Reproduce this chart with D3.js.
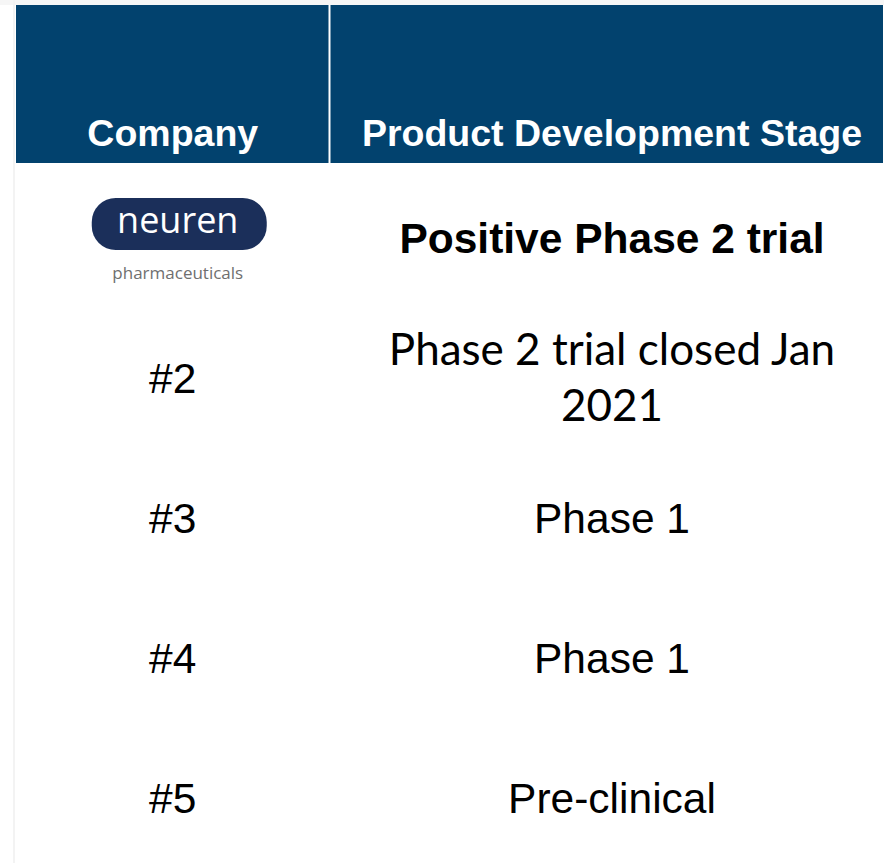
<!DOCTYPE html>
<meta charset="utf-8">
<style>
body { margin: 0; background: #fff; }
</style>
<svg width="884" height="863"></svg>
<script src="https://d3js.org/d3.v7.min.js"></script>
<script>

// table content
var headers = ["Company", "Product Development Stage"];
var companies = ["neuren", "#2", "#3", "#4", "#5"];
var stages = ["Positive Phase 2 trial", "Phase 2 trial closed Jan|2021", "Phase 1", "Phase 1", "Pre-clinical"];
var logoSub = "pharmaceuticals";

var svg = d3.select("svg"),
    width = +svg.attr("width"),
    height = +svg.attr("height");

var left = 16, right = 883, split = 329.5,
    headTop = 5, headBottom = 163;

// column centres
var x = d3.scaleOrdinal()
    .domain(headers)
    .range([(left + split) / 2, 612]);

// rows
var y = d3.scaleBand()
    .domain(d3.range(companies.length))
    .range([168, 868])
    .padding(0);

// faint page edges
svg.append("rect").attr("x", 0).attr("y", 0).attr("width", width).attr("height", headTop)
    .attr("fill", "#f6f6f6");
svg.append("rect").attr("x", 13).attr("y", 0).attr("width", 2).attr("height", height)
    .attr("fill", "#f3f3f3");

// header
svg.append("rect")
    .attr("x", left).attr("y", headTop)
    .attr("width", right - left).attr("height", headBottom - headTop)
    .attr("fill", "#02426e");

svg.append("line")
    .attr("x1", split).attr("x2", split)
    .attr("y1", headTop).attr("y2", headBottom)
    .attr("stroke", "#ffffff").attr("stroke-width", 2);

svg.selectAll(".head")
    .data(headers)
  .enter().append("text")
    .attr("class", "head")
    .attr("x", function(d) { return x(d); })
    .attr("y", 146)
    .attr("text-anchor", "middle")
    .style("font", "bold 37.5px 'Liberation Sans', Arial, sans-serif")
    .attr("fill", "#fff")
    .text(function(d) { return d; });

var rowC = function(i) { return y(i) + y.bandwidth() / 2; };

// company column
var comp = svg.selectAll(".comp")
    .data(companies)
  .enter().append("g")
    .attr("class", "comp")
    .attr("transform", function(d, i) { return "translate(" + x(headers[0]) + "," + rowC(i) + ")"; });

comp.filter(function(d, i) { return i > 0; })
  .append("text")
    .attr("text-anchor", "middle")
    .attr("dy", "0.35em")
    .style("font", "42.5px 'Liberation Sans', Arial, sans-serif")
    .attr("fill", "#000")
    .text(function(d) { return d; });

// logo for first row
var logo = comp.filter(function(d, i) { return i === 0; });
logo.append("rect")
    .attr("x", -81).attr("y", -40)
    .attr("width", 175).attr("height", 52)
    .attr("rx", 24)
    .attr("fill", "#1b2f5a");
logo.append("text")
    .attr("x", 5).attr("y", -5)
    .attr("text-anchor", "middle")
    .style("font", "36px 'Open Sans', sans-serif")
    .attr("fill", "#fff")
    .text(function(d) { return d; });
logo.append("text")
    .attr("x", 5).attr("y", 41)
    .attr("text-anchor", "middle")
    .style("font", "17px 'Open Sans', sans-serif")
    .attr("fill", "#6f6f6f")
    .text(logoSub);

// stage column
var stage = svg.selectAll(".stage")
    .data(stages)
  .enter().append("text")
    .attr("class", "stage")
    .attr("x", x(headers[1]))
    .attr("y", function(d, i) { return rowC(i); })
    .attr("text-anchor", "middle")
    .attr("fill", "#000")
    .style("font", function(d, i) {
      if (i === 0) return "bold 42.5px 'Liberation Sans', Arial, sans-serif";
      if (i === 1) return "44px Lato, 'Open Sans', sans-serif";
      return "42.5px 'Liberation Sans', Arial, sans-serif";
    });

stage.each(function(d, i) {
  var lines = d.split("|"),
      lh = 56,
      t = d3.select(this),
      fs = i === 1 ? 44 : 42.5;
  lines.forEach(function(s, k) {
    t.append("tspan")
      .attr("x", x(headers[1]))
      .attr("dy", k === 0 ? (0.35 - (lines.length - 1) * 0.5 * lh / fs) + "em" : lh)
      .text(s);
  });
});

</script>
